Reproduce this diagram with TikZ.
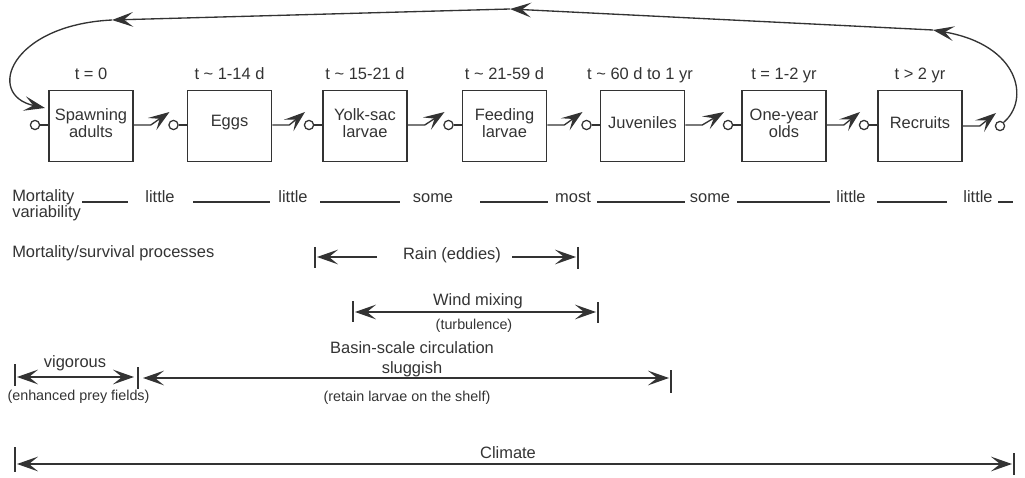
\documentclass[tikz,border=0pt]{standalone}
\usepackage{fontspec}
\setmainfont{Liberation Sans}
\usetikzlibrary{arrows.meta,calc}
\definecolor{ink}{HTML}{333333}
\begin{document}
\begin{tikzpicture}[x=0.025cm,y=-0.025cm,
  every node/.style={text=ink},
  font=\fontsize{11.7}{12}\selectfont,
  box/.style={draw=ink, line width=1.1pt, minimum width=2.1cm, minimum height=1.775cm, inner sep=0pt},
  btext/.style={align=center, inner sep=0pt, font=\fontsize{11.7}{12}\selectfont},
  tlabel/.style={anchor=base, inner sep=0pt},
  valve/.style={draw=ink, circle, line width=0.9pt, minimum size=0.23cm, inner sep=0pt},
  ln/.style={draw=ink, line width=0.95pt},
  barl/.style={draw=ink, line width=1.1pt},
  arr/.tip={Stealth[length=15pt,width=10.5pt,inset=6.5pt]},
  tip/.style={-arr},
  dtip/.style={arr-arr},
  small/.style={font=\fontsize{10.2}{12}\selectfont},
  wtxt/.style={anchor=base, inner sep=0pt}
]
\useasboundingbox (0,0) rectangle (1025,478);

% boxes
\node[box] (b1) at (91,126) {};
\node[box] (b2) at (229.5,126) {};
\node[box] (b3) at (365,126) {};
\node[box] (b4) at (504.5,126) {};
\node[box] (b5) at (642.5,126) {};
\node[box] (b6) at (784,126) {};
\node[box] (b7) at (920,126) {};

\node[btext] (x1) at (91,123) {Spawning\\adults};
\node[btext] (x2) at (229.5,123) {Eggs};
\node[btext] (x3) at (365,123) {Yolk-sac\\larvae};
\node[btext] (x4) at (504.5,123) {Feeding\\larvae};
\node[btext] (x5) at (642.5,123) {Juveniles};
\node[btext] (x6) at (784,123) {One-year\\olds};
\node[btext] (x7) at (920,123) {Recruits};

% time labels
\node[tlabel] (t1) at (91,80) {t = 0};
\node[tlabel] (t2) at (229.5,80) {t \textasciitilde{} 1-14 d};
\node[tlabel] (t3) at (365,80) {t \textasciitilde{} 15-21 d};
\node[tlabel] (t4) at (504.5,80) {t \textasciitilde{} 21-59 d};
\node[tlabel] (t5) at (640,80) {t \textasciitilde{} 60 d to 1 yr};
\node[tlabel] (t6) at (784,80) {t = 1-2 yr};
\node[tlabel] (t7) at (920,80) {t > 2 yr};

% valves
\node[valve] (c1) at (35,125) {};
\node[valve] (c2) at (173.5,125) {};
\node[valve] (c3) at (309,125) {};
\node[valve] (c4) at (448.5,125) {};
\node[valve] (c5) at (586.5,125) {};
\node[valve] (c6) at (728,125) {};
\node[valve] (c7) at (864,125) {};
\node[valve] (c8) at (1000,126) {};

\foreach \i in {1,...,7}{
  \draw[ln] (c\i.east) -- (b\i.west |- c\i.east);
}
\foreach \i/\j in {1/2,2/3,3/4,4/5,5/6,6/7,7/8}{
  \draw[ln,tip] (b\i.east |- c\j.center) -- ++(17,0) -- ($(c\j.center)+(-4,-13)$);
}

% feedback loop
\coordinate (L1) at (933,30);
\coordinate (L2) at (510,9);
\coordinate (L3) at (112,20);
\coordinate (L4) at (45,108);
\draw[ln,tip] (c8.north east) .. controls (1030,100) and (1020,45) .. (L1);
\draw[ln,tip] (L1) -- (L2);
\draw[ln,tip] (L2) -- (L3);
\draw[ln,tip] (L3) .. controls (10,25) and (-15,95) .. (L4);

% mortality variability row
\node[wtxt, anchor=base west] (m0) at (12,202) {Mortality};
\node[wtxt, anchor=base west] (m0b) at (12,218) {variability};
\node[wtxt] (m1) at (160,203) {little};
\node[wtxt] (m2) at (293,203) {little};
\node[wtxt] (m3) at (433,203) {some};
\node[wtxt] (m4) at (573,203) {most};
\node[wtxt] (m5) at (710,203) {some};
\node[wtxt] (m6) at (851,203) {little};
\node[wtxt] (m7) at (978,203) {little};
\foreach \a/\b in {82/128,193/270,320/400,480/548,597/685,737/830,877/947,998/1013}{
  \draw[ln] (\a,202) -- (\b,202);
}

\node[wtxt, anchor=base west] (proc) at (12,258) {Mortality/survival processes};

% Rain
\coordinate (rA) at (315,257);
\coordinate (rB) at (578,257);
\draw[barl] ($(rA)+(0,-10)$) -- ($(rA)+(0,11)$);
\draw[barl] ($(rB)+(0,-10)$) -- ($(rB)+(0,12)$);
\node (rain) at (452,255) {Rain (eddies)};
\draw[ln,tip] (377,257) -- ($(rA)+(2,0)$);
\draw[ln,tip] (512,257) -- ($(rB)+(-2,0)$);

% Wind mixing
\coordinate (wA) at (353,312);
\coordinate (wB) at (598,312);
\draw[barl] ($(wA)+(0,-11)$) -- ($(wA)+(0,10)$);
\draw[barl] ($(wB)+(0,-10)$) -- ($(wB)+(0,11)$);
\draw[ln,dtip] ($(wA)+(2,0)$) -- ($(wB)+(-2,0)$);
\node[wtxt] (wind) at (478,306) {Wind mixing};
\node[small] (turb) at (474,326) {(turbulence)};

% Basin-scale circulation
\coordinate (vA) at (15,377);
\coordinate (sA) at (138,378);
\coordinate (sB) at (671,378);
\draw[barl] ($(vA)+(0,-13)$) -- ($(vA)+(0,9)$);
\draw[barl] ($(sA)+(0,-11)$) -- ($(sA)+(0,11)$);
\draw[barl] ($(sB)+(0,-8)$) -- ($(sB)+(0,15)$);
\draw[ln,dtip] ($(vA)+(2,0)$) -- ($(sA)+(-4,-1)$);
\draw[ln,dtip] ($(sA)+(5,0)$) -- ($(sB)+(-2,0)$);
\node[wtxt] (basin) at (412,353) {Basin-scale circulation};
\node[wtxt] (slug) at (412,373) {sluggish};
\node[small] (retain) at (407,398) {(retain larvae on the shelf)};
\node[wtxt] (vig) at (75,367) {vigorous};
\node[small] (prey) at (78.5,397) {(enhanced prey fields)};

% Climate
\coordinate (cA) at (15,464);
\coordinate (cB) at (1014,464);
\draw[barl] ($(cA)+(0,-17)$) -- ($(cA)+(0,8)$);
\draw[barl] ($(cB)+(0,-11)$) -- ($(cB)+(0,11)$);
\draw[ln,dtip] ($(cA)+(2,0)$) -- ($(cB)+(-2,0)$);
\node[wtxt] (clim) at (508,458) {Climate};
\end{tikzpicture}
\end{document}
